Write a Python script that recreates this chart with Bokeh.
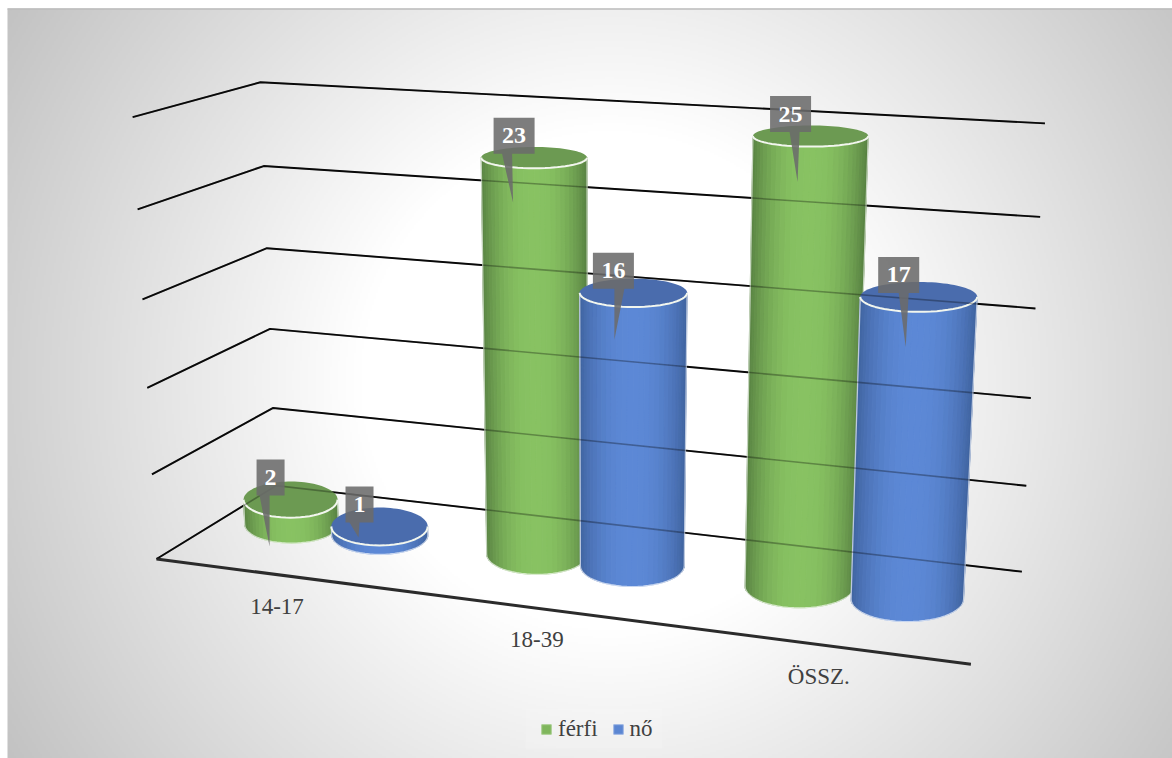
import numpy as np
from bokeh.plotting import figure
from bokeh.models import Legend, LegendItem, Range1d
from bokeh.core.properties import value
from bokeh.embed import file_html
from bokeh.resources import INLINE

# ---- data ----
categories = ["14-17", "18-39", "ÖSSZ."]
ferfi = [2, 23, 25]
no = [1, 16, 17]
series_names = ["férfi", "nő"]
axis_levels = [0, 5, 10, 15, 20, 25]

# ---- page geometry ----
W, H = 1172, 758
PANEL_X, PANEL_Y = 7, 8
serif = "Liberation Serif"

# ---- camera: calibrated from where the chart's box sits on the page ----
# (category position, depth, value) -> page pixel
calib_world = np.array([
    [0, 0, 0], [3, 0, 0], [0, 1, 0], [3, 1, 0],
    [0, 0, 5], [0, 1, 5], [3, 1, 5],
    [0, 0, 10], [0, 1, 10], [3, 1, 10],
    [0, 0, 15], [0, 1, 15], [3, 1, 15],
    [0, 0, 20], [0, 1, 20], [3, 1, 20],
    [0, 0, 25], [0, 1, 25], [3, 1, 25],
], dtype=float)
calib_page = np.array([
    [157, 558], [971, 664], [277, 487], [1021, 571],
    [151, 473], [273, 407], [1026, 485],
    [146, 388], [268, 328], [1030, 398],
    [142, 298], [265, 247], [1034, 308],
    [137, 209], [263, 165], [1040, 216],
    [132, 118], [262, 82], [1045, 123],
], dtype=float)


def fit_camera(world, page):
    w = world / np.array([3.0, 1.0, 25.0])
    q = page / 1000.0
    rows = []
    for (a, b, c), (x, y) in zip(w, q):
        rows.append([a, b, c, 1, 0, 0, 0, 0, -x * a, -x * b, -x * c, -x])
        rows.append([0, 0, 0, 0, a, b, c, 1, -y * a, -y * b, -y * c, -y])
    _, _, vt = np.linalg.svd(np.array(rows))
    return vt[-1].reshape(3, 4)


CAM = fit_camera(calib_world, calib_page)


def project(X, Y, Z):
    X, Y, Z = np.broadcast_arrays(np.asarray(X, float), np.asarray(Y, float), np.asarray(Z, float))
    pts = np.stack([X / 3.0, Y, Z / 25.0, np.ones_like(X)], axis=0)
    s = CAM @ pts.reshape(4, -1)
    px = s[0] / s[2] * 1000.0
    py = s[1] / s[2] * 1000.0
    return px.reshape(X.shape), py.reshape(X.shape)


def sy(py):
    """page y (downwards) -> plot y (upwards)"""
    return H - np.asarray(py)


# ---- figure and background ----
p = figure(width=W, height=H, output_backend="svg", toolbar_location=None,
           x_range=Range1d(0, W), y_range=Range1d(0, H),
           min_border=0, outline_line_color=None, background_fill_color="white",
           border_fill_color="white")
p.xaxis.visible = False
p.yaxis.visible = False
p.grid.visible = False

PW, PH = W - PANEL_X, H - PANEL_Y
gx = np.arange(0, PW, 2) + PANEL_X + 1
gy = np.arange(0, PH, 2) + PANEL_Y + 1
xx, yy = np.meshgrid(gx, gy)
d = np.hypot(xx - 610, yy - 380)
g = np.clip(255 - 0.132 * np.clip(d - 250, 0, None), 0, 255).astype(np.uint32)
g = g[::-1, :]
img = (255 << 24) | (g << 16) | (g << 8) | g
p.image_rgba(image=[img.astype(np.uint32)], x=PANEL_X, y=0, dw=PW, dh=PH)
p.line([PANEL_X, W], [sy(8.5), sy(8.5)], line_color="#bdbdbd", line_width=1.5)
p.quad(left=[525], right=[662], top=[sy(708)], bottom=[sy(748)], fill_color="white",
       fill_alpha=0.12, line_color=None)

# ---- walls ----
wall_x, wall_y = [], []
for lv in axis_levels:
    px, py = project([0, 0, 3], [0, 1, 1], [lv, lv, lv])
    wall_x.append(list(px))
    wall_y.append(list(sy(py)))
fx, fy = project([0, 3], [0, 0], [0, 0])
p.multi_line(wall_x, wall_y, line_color="#0d0d0d", line_width=1.9)
p.line(list(fx), list(sy(fy)), line_color="#2b2b2b", line_width=3)

# ---- cylinders ----
OFF_L = [0.19, 0.19, 0.20]
OFF_R = [0.178, 0.178, 0.185]
RX, RY = 0.198, 0.25
DEPTH = 0.5
BASE_LIFT, TOP_DROP = 0.3, 0.17
green = dict(edge=np.array([88, 130, 66]), mid=np.array([136, 194, 98]), top="#6c9a52")
blue = dict(edge=np.array([64, 100, 160]), mid=np.array([92, 136, 214]), top="#4a6cad")


def hexc(c):
    return "#%02x%02x%02x" % tuple(int(round(v)) for v in c)


def disc(cx, z):
    """screen-aligned ellipse of a bar end: centre and the two half axes"""
    c_x, c_y = project(cx, DEPTH, z)
    l_x, _ = project(cx - RX, DEPTH, z)
    r_x, _ = project(cx + RX, DEPTH, z)
    _, n_y = project(cx, DEPTH - RY, z)
    _, f_y = project(cx, DEPTH + RY, z)
    return float(c_x), float(c_y), float(r_x - l_x) / 2, float(n_y - f_y) / 2


def cylinder(cx, val, pal):
    bx, by, brx, bry = disc(cx, BASE_LIFT)
    tx, ty, trx, tr_y = disc(cx, val - TOP_DROP)
    n = 30
    ang = np.linspace(np.pi, 0, n + 1)   # left to right along the front
    xs, ys, cols = [], [], []
    for a0, a1 in zip(ang[:-1], ang[1:]):
        t = abs(np.cos(0.5 * (a0 + a1)))
        f = 1 - t ** 2.4
        col = pal["edge"] + (pal["mid"] - pal["edge"]) * f
        aa = np.array([a0, a1])
        xs.append(list(bx + brx * np.cos(aa)) + list(tx + trx * np.cos(aa[::-1])))
        ys.append(list(sy(by + bry * np.sin(aa))) + list(sy(ty + tr_y * np.sin(aa[::-1]))))
        cols.append(hexc(col))
    p.patches(xs, ys, fill_color=cols, line_color=cols, line_width=1)
    # silhouette
    sil_x = [tx - trx] + list(bx + brx * np.cos(ang)) + [tx + trx]
    sil_y = [ty] + list(by + bry * np.sin(ang)) + [ty]
    p.line(sil_x, list(sy(sil_y)), line_color="white", line_width=1.3, line_alpha=0.65)
    # top disc
    th = np.linspace(0, 2 * np.pi, 90)
    p.patch(list(tx + trx * np.cos(th)), list(sy(ty + tr_y * np.sin(th))),
            fill_color=pal["top"], line_color=None)
    p.line(list(tx + trx * np.cos(ang)), list(sy(ty + tr_y * np.sin(ang))),
           line_color="#f2f6ee", line_width=2)


for i in range(len(categories)):
    cylinder(i + 0.5 - OFF_L[i], ferfi[i], green)
    cylinder(i + 0.5 + OFF_R[i], no[i], blue)

# grid showing through the translucent bars
p.multi_line(wall_x, wall_y, line_color="#000000", line_width=1.6, line_alpha=0.3)

# ---- data callouts ----
BOX_DX, BOX_DY = -20, -22
tail_tip_dy = [[47, 45, 46], [11, 47, 50]]
tail_tip_dx = [[-1, -1, 7], [-1, 1, 7]]
tail_base_dx = [[-6, -7, 4], [-5, 6, 5]]

txs, tys, tls = [], [], []
cx_list, cy_list = [], []
for j, vals in enumerate([ferfi, no]):
    for i, v in enumerate(vals):
        cx = i + 0.5 + (-OFF_L[i] if j == 0 else OFF_R[i])
        tx, ty = project(cx, DEPTH, v - TOP_DROP)
        tx, ty = float(tx), float(ty)
        bx, by = tx + BOX_DX, ty + BOX_DY
        hw = 20.5 if v >= 10 else 14
        hh = 18
        base = bx + tail_base_dx[j][i]
        tip_x = bx + tail_tip_dx[j][i]
        tip_y = ty + tail_tip_dy[j][i]
        cx_list.append([bx - hw, bx + hw, bx + hw, base + 5, tip_x, base - 5, bx - hw])
        cy_list.append(list(sy([by - hh, by - hh, by + hh, by + hh, tip_y, by + hh, by + hh])))
        txs.append(bx)
        tys.append(float(sy(by)))
        tls.append(str(v))
p.patches(cx_list, cy_list, fill_color="#6b6b6b", fill_alpha=0.88, line_color=None)
p.text(txs, tys, text=tls, text_color="white", text_font=value(serif), text_font_style="bold",
       text_font_size="24px", text_align="center", text_baseline="middle")

# ---- category labels ----
LABEL_DX, LABEL_DY = -2, 31.5
lx, ly = project(np.arange(3) + 0.5, 0 * np.arange(3), 0 * np.arange(3))
p.text(list(lx + LABEL_DX), list(sy(ly + LABEL_DY)), text=categories,
       text_color="#404040", text_font=value(serif), text_font_size="23px",
       text_align="center", text_baseline="middle")

# ---- legend ----
r1 = p.quad(left=[-50], right=[-40], top=[-40], bottom=[-50], fill_color="#7fb65c", line_color="#a9cf92", line_width=1)
r2 = p.quad(left=[-50], right=[-40], top=[-40], bottom=[-50], fill_color="#5b86d2", line_color="#9db6e4", line_width=1)
legend = Legend(items=[LegendItem(label=series_names[0], renderers=[r1]),
                       LegendItem(label=series_names[1], renderers=[r2])],
                orientation="horizontal", location=(540, 16),
                background_fill_alpha=0, border_line_color=None,
                glyph_width=12, glyph_height=12, label_standoff=6, spacing=14,
                padding=0, margin=0, label_text_font=serif, label_text_font_size="23px",
                label_text_color="#404040")
p.add_layout(legend, "center")

open("out.html", "w").write(file_html(p, INLINE))
